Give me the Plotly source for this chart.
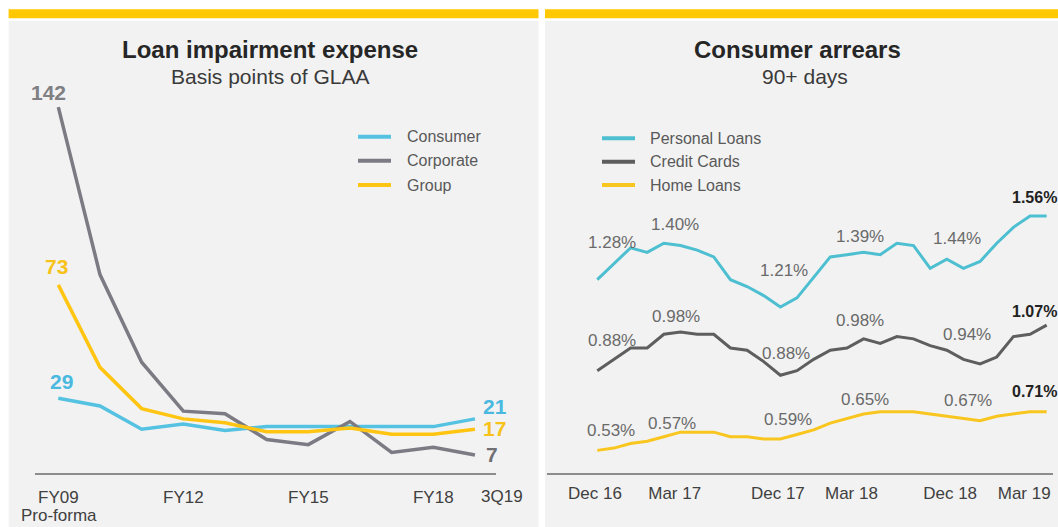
import plotly.graph_objects as go

# ---------------- Data: Loan impairment expense (bps of GLAA) ----------------
lie_periods = ["FY09", "FY10", "FY11", "FY12", "FY13", "FY14", "FY15", "FY16", "FY17", "FY18", "3Q19"]
consumer = [29, 26, 17, 19, 16.5, 18, 18, 18, 18, 18, 21]
corporate = [142, 77, 43, 24, 23, 13, 11, 20, 8, 10, 7]
group = [73, 41, 25, 21, 19.5, 16, 16, 17.5, 15, 15, 17]
lie_tick_periods = ["FY09", "FY12", "FY15", "FY18"]
lie_first_note = "Pro-forma"
lie_last_label = "3Q19"

# ---------------- Data: Consumer arrears 90+ days (%) ----------------
months = ["Dec 16", "Jan 17", "Feb 17", "Mar 17", "Apr 17", "May 17", "Jun 17", "Jul 17",
          "Aug 17", "Sep 17", "Oct 17", "Nov 17", "Dec 17", "Jan 18", "Feb 18", "Mar 18",
          "Apr 18", "May 18", "Jun 18", "Jul 18", "Aug 18", "Sep 18", "Oct 18", "Nov 18",
          "Dec 18", "Jan 19", "Feb 19", "Mar 19"]
personal_loans = [1.28, 1.35, 1.42, 1.40, 1.44, 1.43, 1.41, 1.38, 1.28, 1.25, 1.21, 1.16, 1.20, 1.29,
                  1.38, 1.39, 1.40, 1.39, 1.44, 1.43, 1.33, 1.37, 1.33, 1.36, 1.44, 1.51, 1.56, 1.56]
credit_cards = [0.88, 0.93, 0.98, 0.98, 1.04, 1.05, 1.04, 1.04, 0.98, 0.97, 0.92, 0.86, 0.88, 0.93,
                0.97, 0.98, 1.02, 1.00, 1.03, 1.02, 0.99, 0.97, 0.93, 0.91, 0.94, 1.03, 1.04, 1.08]
home_loans = [0.53, 0.54, 0.56, 0.57, 0.59, 0.61, 0.61, 0.61, 0.59, 0.59, 0.58, 0.58, 0.60, 0.62,
              0.65, 0.67, 0.69, 0.70, 0.70, 0.70, 0.69, 0.68, 0.67, 0.66, 0.68, 0.69, 0.70, 0.70]
arrears_tick_labels = ["Dec 16", "Mar 17", "Dec 17", "Mar 18", "Dec 18", "Mar 19"]
label_months = ["Dec 16", "Mar 17", "Dec 17", "Mar 18", "Dec 18", "Mar 19"]
personal_labels = ["1.28%", "1.40%", "1.21%", "1.39%", "1.44%", "1.56%"]
credit_labels = ["0.88%", "0.98%", "0.88%", "0.98%", "0.94%", "1.07%"]
home_labels = ["0.53%", "0.57%", "0.59%", "0.65%", "0.67%", "0.71%"]

# ---------------- Layout helpers ----------------
W, H = 1058, 527
FONT = "Liberation Sans, Arial, sans-serif"


def px(x):
    return x / W


def py(y):
    return 1 - y / H


BLUE_L, GREY_L, YEL_L = "#55C2E2", "#7C7B83", "#FFC512"
BLUE_R, GREY_R, YEL_R = "#4DBFD0", "#5E5E5E", "#F8C61E"

fig = go.Figure()

# Left chart traces
lx = list(range(len(lie_periods)))
for name, vals, col in [("Consumer", consumer, BLUE_L), ("Corporate", corporate, GREY_L), ("Group", group, YEL_L)]:
    fig.add_trace(go.Scatter(x=lx, y=vals, mode="lines", name=name, showlegend=False,
                             line=dict(color=col, width=3.5), xaxis="x", yaxis="y"))

# Right chart traces
rx = list(range(len(months)))
for name, vals, col in [("Personal Loans", personal_loans, BLUE_R), ("Credit Cards", credit_cards, GREY_R),
                        ("Home Loans", home_loans, YEL_R)]:
    fig.add_trace(go.Scatter(x=rx, y=vals, mode="lines", name=name, showlegend=False,
                             line=dict(color=col, width=3), xaxis="x2", yaxis="y2"))

shapes = []
# Panels and yellow bars
for x0, x1 in [(8.6, 538.5), (545, 1058)]:
    shapes.append(dict(type="rect", xref="paper", yref="paper", x0=px(x0), x1=px(x1), y0=0, y1=py(21),
                       fillcolor="#F2F2F2", line=dict(width=0), layer="below"))
    shapes.append(dict(type="rect", xref="paper", yref="paper", x0=px(x0), x1=px(x1), y0=py(18.3), y1=py(9.3),
                       fillcolor="#FFC800", line=dict(width=0), layer="below"))

annotations = []
# Titles
for cx, t in [(269.5, "Loan impairment expense"), (797, "Consumer arrears")]:
    annotations.append(dict(xref="paper", yref="paper", x=px(cx), y=py(49), text="<b>%s</b>" % t,
                            showarrow=False, xanchor="center", yanchor="middle",
                            font=dict(family=FONT, size=24, color="#262626")))
annotations.append(dict(xref="paper", yref="paper", x=px(269.5), y=py(76), text="Basis points of GLAA",
                        showarrow=False, xanchor="center", yanchor="middle",
                        font=dict(family=FONT, size=21, color="#3A3A3A")))
annotations.append(dict(xref="paper", yref="paper", x=px(805), y=py(76), text="90+ days",
                        showarrow=False, xanchor="center", yanchor="middle",
                        font=dict(family=FONT, size=21, color="#3A3A3A")))

# Manual legends
for (lx0, lx1, tx, ys, items) in [
    (358, 391, 404.7, [136.7, 160.7, 185], [("Consumer", BLUE_L), ("Corporate", GREY_L), ("Group", YEL_L)]),
    (602, 635, 648.3, [138.3, 161.7, 185], [("Personal Loans", BLUE_R), ("Credit Cards", GREY_R), ("Home Loans", YEL_R)]),
]:
    for yy, (nm, col) in zip(ys, items):
        shapes.append(dict(type="line", xref="paper", yref="paper", x0=px(lx0), x1=px(lx1), y0=py(yy), y1=py(yy),
                           line=dict(color=col, width=4)))
        annotations.append(dict(xref="paper", yref="paper", x=px(tx), y=py(yy), text=nm, showarrow=False,
                                xanchor="left", yanchor="middle",
                                font=dict(family=FONT, size=16, color="#595959")))

# Left chart end-point value labels
first, last = 0, len(lie_periods) - 1
for vals, col, idx, dx, dy in [
    (corporate, "#7F7F84", first, -10.3, 15), (group, "#F7C21A", first, -2.3, 17.9), (consumer, "#4AB9E0", first, 2.7, 16.6),
    (consumer, "#4AB9E0", last, 20, 12.2), (group, "#F7C21A", last, 20, 0.9), (corporate, "#6F6F74", last, 17, 0),
]:
    annotations.append(dict(xref="x", yref="y", x=idx, y=vals[idx], text="<b>%g</b>" % vals[idx], showarrow=False,
                            xanchor="center", yanchor="middle", xshift=dx, yshift=dy,
                            font=dict(family=FONT, size=21, color=col)))

# Extra axis texts of the left chart
annotations.append(dict(xref="x", yref="paper", x=lie_periods.index(lie_last_label), y=py(496.7),
                        text=lie_last_label, showarrow=False, xanchor="center", yanchor="middle", xshift=27,
                        font=dict(family=FONT, size=17, color="#404040")))
annotations.append(dict(xref="x", yref="paper", x=lie_periods.index("FY09"), y=0,
                        text=lie_first_note, showarrow=False, xanchor="center", yanchor="bottom", xshift=1,
                        font=dict(family=FONT, size=17, color="#404040")))

# Right chart labels
offsets = {
    "personal": [(14.7, 36.7), (27.8, 27.4), (-13, 27.2), (13, 17.9), (-39.8, 5), (-37, 18)],
    "credit": [(14.7, 30.7), (28.8, 31.9), (-11, 17.4), (13, 27.9), (-29.8, 22.1), (-37, 13.5)],
    "home": [(13.7, 19.7), (24.8, 18), (-9, 15.1), (18, 19.2), (-28.8, 15.5), (-37, 20)],
}
for key, vals, labels in [("personal", personal_loans, personal_labels), ("credit", credit_cards, credit_labels),
                          ("home", home_loans, home_labels)]:
    for i, (m, lab) in enumerate(zip(label_months, labels)):
        idx = months.index(m)
        dx, dy = offsets[key][i]
        last_one = i == len(labels) - 1
        annotations.append(dict(xref="x2", yref="y2", x=idx, y=vals[idx],
                                text=("<b>%s</b>" % lab) if last_one else lab, showarrow=False,
                                xanchor="left" if last_one else "center", yanchor="middle",
                                xshift=dx, yshift=dy,
                                font=dict(family=FONT, size=17 if not last_one else 16,
                                          color="#222222" if last_one else "#6A6A6A")))

# Axis ticks
lie_tickvals = [lie_periods.index(p) for p in lie_tick_periods]
arrears_tick_pos = [-0.14, 4.65, 10.85, 15.27, 21.2, 25.65]

axis_common = dict(showgrid=False, zeroline=False, showline=True, linecolor="#8C8C8C", linewidth=2,
                   ticks="", tickfont=dict(family=FONT, size=17, color="#404040"), fixedrange=True)

fig.update_layout(
    width=W, height=H,
    margin=dict(l=0, r=0, t=0, b=0),
    paper_bgcolor="white", plot_bgcolor="rgba(0,0,0,0)",
    showlegend=False,
    hovermode=False,
    xaxis=dict(domain=[px(35.4), px(495.8)], range=[-0.55, 10.5], anchor="y",
               tickmode="array", tickvals=lie_tickvals, ticktext=lie_tick_periods, ticklabelstandoff=8,
               **axis_common),
    yaxis=dict(domain=[py(473), py(100)], range=[0, 373 / 2.577], visible=False, fixedrange=True),
    xaxis2=dict(domain=[px(547), px(1053)], range=[-3.02, 27.38], anchor="y2",
                tickmode="array", tickvals=arrears_tick_pos, ticktext=arrears_tick_labels, ticklabelstandoff=4,
                **axis_common),
    yaxis2=dict(domain=[py(473), py(190)], range=[(571 - 473) / 227.6, (571 - 190) / 227.6], visible=False,
                fixedrange=True),
    shapes=shapes,
    annotations=annotations,
)

fig.write_html("out.html", config={"displayModeBar": False, "staticPlot": True},
               post_script="document.body.style.margin='0';document.body.style.overflow='hidden';")
